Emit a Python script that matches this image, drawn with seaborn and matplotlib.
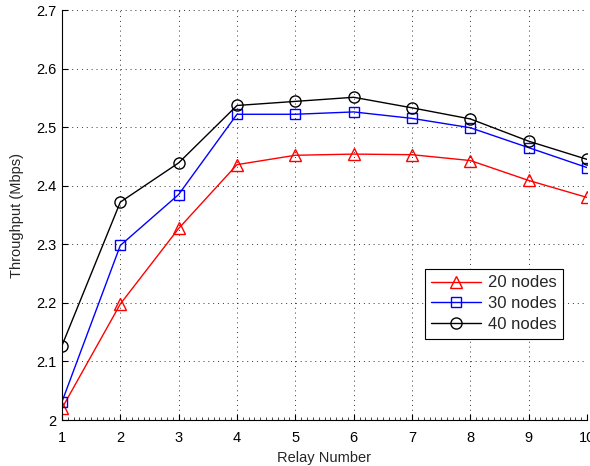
import matplotlib
matplotlib.use("Agg")
import matplotlib.pyplot as plt
import seaborn as sns
import pandas as pd
from matplotlib.ticker import MultipleLocator

relays = [1, 2, 3, 4, 5, 6, 7, 8, 9, 10]
nodes20 = [2.020, 2.198, 2.327, 2.436, 2.452, 2.454, 2.453, 2.443, 2.409, 2.380]
nodes30 = [2.031, 2.298, 2.385, 2.522, 2.522, 2.526, 2.515, 2.499, 2.465, 2.431]
nodes40 = [2.127, 2.372, 2.439, 2.537, 2.544, 2.551, 2.533, 2.514, 2.476, 2.445]
labels = ["20 nodes", "30 nodes", "40 nodes"]
y_ticks = [2.0, 2.1, 2.2, 2.3, 2.4, 2.5, 2.6, 2.7]
y_tick_labels = ["2", "2.1", "2.2", "2.3", "2.4", "2.5", "2.6", "2.7"]

sns.set_theme(style="white")
plt.rcParams['font.family'] = ['Liberation Sans', 'DejaVu Sans']

fig = plt.figure(figsize=(5.9, 4.66), dpi=100)
ax = fig.add_axes([0.105, 0.0987, 0.89, 0.8798])

series = [nodes20, nodes30, nodes40]
colors = ["#ff0000", "#0000ff", "#000000"]
markers = ["^", "s", "o"]
msizes = [8, 6.5, 8]
for vals, lab, c, m, ms in zip(series, labels, colors, markers, msizes):
    df = pd.DataFrame({"Relay": relays, "Throughput": vals})
    sns.lineplot(data=df, x="Relay", y="Throughput", ax=ax, color=c, marker=m,
                 markersize=ms, markerfacecolor="none", markeredgecolor=c,
                 markeredgewidth=1.0, linewidth=1.0, label=lab)

ax.set_xlim(1, 10)
ax.set_ylim(2.0, 2.7)
ax.set_xticks(relays)
ax.set_xticklabels([str(r) for r in relays])
ax.set_yticks(y_ticks)
ax.set_yticklabels(y_tick_labels)
ax.xaxis.set_minor_locator(MultipleLocator(0.1))
ax.tick_params(axis="both", which="major", direction="in", length=4, width=0.8,
               labelsize=10.5, colors="black")
ax.tick_params(axis="x", which="major", pad=8)
ax.tick_params(axis="y", which="major", pad=4)
ax.tick_params(axis="x", which="minor", direction="in", length=2, width=0.6,
               bottom=True)
ax.tick_params(axis="both", which="both", top=False, right=False)
ax.tick_params(axis="x", which="major", bottom=True)
ax.tick_params(axis="y", which="major", left=True)

ax.grid(True, which="major", linestyle=(0, (1, 4)), color="black", linewidth=0.7, alpha=0.8)
for s in ["top", "right"]:
    ax.spines[s].set_visible(False)
for s in ["left", "bottom"]:
    ax.spines[s].set_color("black")
    ax.spines[s].set_linewidth(0.8)

ax.set_xlabel("Relay Number", fontsize=10.5, labelpad=4)
ax.set_ylabel("Throughput (Mbps)", fontsize=10.5, labelpad=9)

leg = ax.legend(loc="lower right", bbox_to_anchor=(0.955, 0.198), fontsize=12,
                frameon=True, fancybox=False, edgecolor="black", framealpha=1,
                handlelength=3, handletextpad=0.4, borderpad=0.4, labelspacing=0.35,
                borderaxespad=0)
leg.get_frame().set_linewidth(0.8)

fig.savefig("out.png", dpi=100)
